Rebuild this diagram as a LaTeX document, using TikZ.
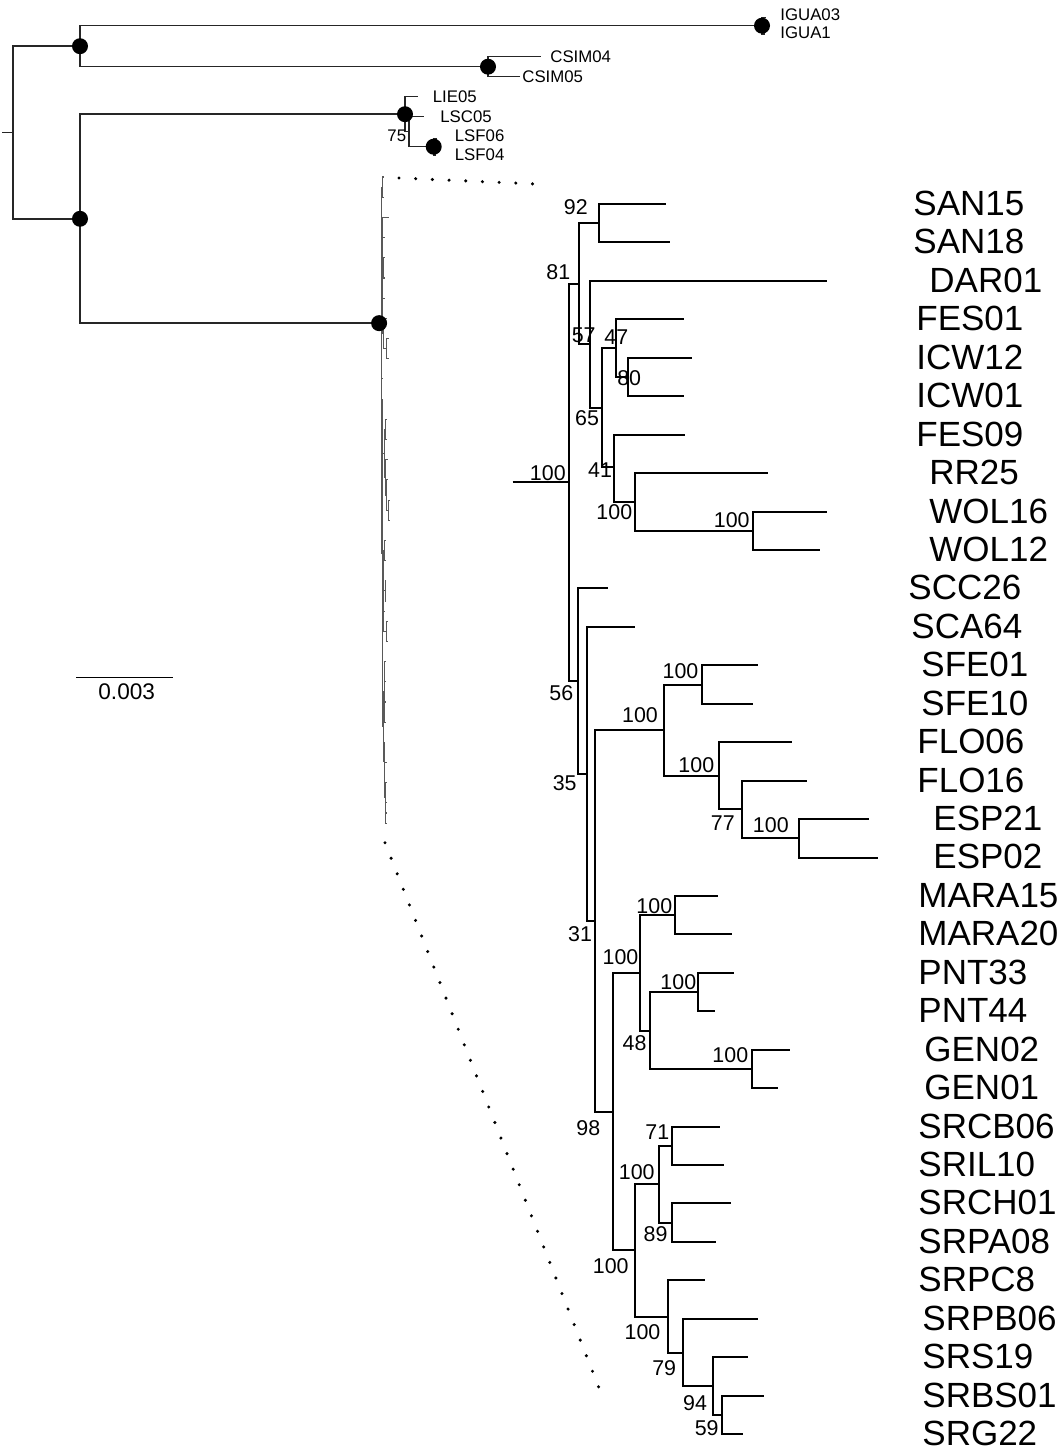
\documentclass[tikz,border=0pt]{standalone}
\usepackage{fontspec}
\setmainfont{Liberation Sans}
\tikzset{
  mainbranch/.style={line width=1pt, black},
  thinbranch/.style={line width=0.55pt, black!65},
  topbranch/.style={line width=0.7pt, black!85},
  supportdot/.style={circle, fill=black, inner sep=0pt, minimum size=8pt},
  tiplbl/.style={anchor=west, inner sep=0pt, text height=12.5pt, text depth=0pt, font=\fontsize{17.5}{20}\selectfont},
  bslbl/.style={inner sep=0pt, text height=7.66pt, text depth=0pt, font=\fontsize{10.7}{12}\selectfont},
  smlbl/.style={anchor=west, inner sep=0pt, text height=6pt, text depth=0pt, font=\fontsize{8.4}{10}\selectfont},
  scalelbl/.style={inner sep=0pt, text height=8.1pt, text depth=0pt, font=\fontsize{11.3}{13}\selectfont},
  dotline/.style={line width=1.7pt, line cap=round, dash pattern=on 0pt off 8.35pt, black},
}
% Branches of the ingroup clade; #1 = name prefix, #2 = line style
\newcommand\cladebranches[2]{%
  \coordinate (#1s) at (512.7,482.3);
  \coordinate (#1r) at (569.3,482.3);
  \coordinate (#1n81) at (579,283.6);
  \coordinate (#1n92) at (599.3,223.2);
  \coordinate (#1n57) at (590,344.0);
  \coordinate (#1n65) at (601.7,407.7);
  \coordinate (#1n47) at (616,348.2);
  \coordinate (#1n80) at (628.3,377.0);
  \coordinate (#1n41) at (614,467.3);
  \coordinate (#1nrr) at (635,501.9);
  \coordinate (#1nwol) at (752.7,530.7);
  \coordinate (#1n56) at (577.7,681.0);
  \coordinate (#1n35) at (586.7,773.6);
  \coordinate (#1n31) at (595,921.0);
  \coordinate (#1nsf) at (664.3,730.1);
  \coordinate (#1nsfe) at (701.7,684.5);
  \coordinate (#1nflo) at (718.7,775.7);
  \coordinate (#1n77) at (741.7,809.4);
  \coordinate (#1nesp) at (799,838.2);
  \coordinate (#1n98) at (613,1111.9);
  \coordinate (#1nmp) at (640,972.8);
  \coordinate (#1nmara) at (675,915.2);
  \coordinate (#1n48) at (650,1030.5);
  \coordinate (#1npnt) at (698.3,992.0);
  \coordinate (#1ngen) at (752.3,1068.9);
  \coordinate (#1nsr) at (635,1250.4);
  \coordinate (#1nsra) at (659.3,1184.2);
  \coordinate (#1n71) at (672.3,1145.8);
  \coordinate (#1n89) at (672.3,1222.6);
  \coordinate (#1nsrb) at (668.3,1316.5);
  \coordinate (#1n79) at (683.3,1352.6);
  \coordinate (#1n94) at (713.3,1386.0);
  \coordinate (#1n59) at (721.7,1414.8);
  \coordinate (#1t0) at (666,204.0);
  \coordinate (#1t1) at (670,242.4);
  \coordinate (#1t2) at (827,280.9);
  \coordinate (#1t3) at (684,319.3);
  \coordinate (#1t4) at (692,357.8);
  \coordinate (#1t5) at (683.7,396.2);
  \coordinate (#1t6) at (685,434.6);
  \coordinate (#1t7) at (767.7,473.1);
  \coordinate (#1t8) at (827,511.5);
  \coordinate (#1t9) at (820,550.0);
  \coordinate (#1t10) at (607.7,588.4);
  \coordinate (#1t11) at (635,626.8);
  \coordinate (#1t12) at (758.3,665.3);
  \coordinate (#1t13) at (752.7,703.7);
  \coordinate (#1t14) at (791.7,742.2);
  \coordinate (#1t15) at (806.7,780.6);
  \coordinate (#1t16) at (869.3,819.0);
  \coordinate (#1t17) at (878.3,857.5);
  \coordinate (#1t18) at (718.3,895.9);
  \coordinate (#1t19) at (732.3,934.4);
  \coordinate (#1t20) at (734,972.8);
  \coordinate (#1t21) at (715,1011.2);
  \coordinate (#1t22) at (790,1049.7);
  \coordinate (#1t23) at (778.3,1088.1);
  \coordinate (#1t24) at (720,1126.6);
  \coordinate (#1t25) at (724,1165.0);
  \coordinate (#1t26) at (731,1203.4);
  \coordinate (#1t27) at (715.7,1241.9);
  \coordinate (#1t28) at (705,1280.3);
  \coordinate (#1t29) at (757.7,1318.8);
  \coordinate (#1t30) at (748.3,1357.2);
  \coordinate (#1t31) at (764,1395.6);
  \coordinate (#1t32) at (743.3,1434.1);
  \draw[#2] (#1s) -- (#1r);
  \foreach \p/\c in {r/n81, r/n56, n81/n92, n81/n57, n92/t0, n92/t1,
      n57/t2, n57/n65, n65/n47, n65/n41, n47/t3, n47/n80, n80/t4, n80/t5,
      n41/t6, n41/nrr, nrr/t7, nrr/nwol, nwol/t8, nwol/t9,
      n56/t10, n56/n35, n35/t11, n35/n31, n31/nsf, n31/n98,
      nsf/nsfe, nsf/nflo, nsfe/t12, nsfe/t13, nflo/t14, nflo/n77,
      n77/t15, n77/nesp, nesp/t16, nesp/t17,
      n98/nmp, n98/nsr, nmp/nmara, nmp/n48, nmara/t18, nmara/t19,
      n48/npnt, n48/ngen, npnt/t20, npnt/t21, ngen/t22, ngen/t23,
      nsr/nsra, nsr/nsrb, nsra/n71, nsra/n89, n71/t24, n71/t25,
      n89/t26, n89/t27, nsrb/t28, nsrb/n79, n79/t29, n79/n94,
      n94/t30, n94/n59, n59/t31, n59/t32}
    \draw[#2] (#1\p) |- (#1\c);
}
\begin{document}
\begin{tikzpicture}[x=0.5pt, y=-0.5pt]
\useasboundingbox (0,0) rectangle (1063,1450);

% ---- enlarged ingroup clade ----
\cladebranches{m}{mainbranch}

% ---- same clade at tree scale ----
\begin{scope}[shift={(381.5,177)}, xscale=0.029, yscale=0.5252, shift={(-569.3,-204)}]
  \cladebranches{c}{thinbranch}
\end{scope}

% ---- outgroups and backbone ----
\coordinate (ts) at (2,132.5);
\coordinate (tR) at (12.8,132.5);
\coordinate (tA) at (80,46.2);
\coordinate (tIg) at (762,25.7);
\coordinate (tI1) at (766,17.5);
\coordinate (tI2) at (765,34);
\coordinate (tCs) at (488,66.7);
\coordinate (tC1) at (541,56.7);
\coordinate (tC2) at (520,76.7);
\coordinate (tB) at (80,218.8);
\coordinate (tL) at (405,114.2);
\coordinate (tLIE) at (418,96.7);
\coordinate (tL75) at (409,131.7);
\coordinate (tLSC) at (424,116.7);
\coordinate (tLSF) at (433.7,146.7);
\coordinate (tLS6) at (437,139);
\coordinate (tLS4) at (436,155);
\draw[topbranch] (ts) -- (tR);
\foreach \p/\c in {tR/tA, tR/tB, tA/tIg, tA/tCs, tIg/tI1, tIg/tI2,
    tCs/tC1, tCs/tC2, tB/tL, tB/cr, tL/tLIE, tL/tL75, tL75/tLSC, tL75/tLSF,
    tLSF/tLS6, tLSF/tLS4}
  \draw[topbranch] (\p) |- (\c);

\node[supportdot] (dA) at (tA) {};
\node[supportdot] (dIg) at (tIg) {};
\node[supportdot] (dCs) at (tCs) {};
\node[supportdot] (dB) at (tB) {};
\node[supportdot] (dL) at (tL) {};
\node[supportdot] (dLSF) at (tLSF) {};
\node[supportdot] (dC) at ([xshift=-1.2pt]cr) {};

\node[smlbl] (lIG3) at (780,15) {IGUA03};
\node[smlbl] (lIG1) at (780,33) {IGUA1};
\node[smlbl] (lCS4) at (550,57) {CSIM04};
\node[smlbl] (lCS5) at (522,77) {CSIM05};
\node[smlbl] (lLIE) at (432.5,97) {LIE05};
\node[smlbl] (lLSC) at (440,116.5) {LSC05};
\node[smlbl] (lLS6) at (454.5,135.5) {LSF06};
\node[smlbl] (lLS4) at (454.5,154.5) {LSF04};
\node[smlbl, anchor=center] (b75) at (396.8,135) {75};

% ---- dotted zoom guides ----
\coordinate (zt1) at (399,178);
\coordinate (zt2) at (548,184.5);
\coordinate (zb1) at (385,842.7);
\coordinate (zb2) at (602.7,1397.3);
\draw[dotline] (zt1) -- (zt2);
\draw[dotline] (zb1) -- (zb2);

% ---- scale bar ----
\coordinate (sb1) at (76,677.7);
\coordinate (sb2) at (172.7,677.7);
\draw[line width=0.6pt] (sb1) -- (sb2);
\node[scalelbl] (sbl) at (126.7,691.7) {0.003};

% ---- bootstrap values ----
\foreach \n/\x/\y/\v in {
    n92/575.8/207/92, n81/558.3/271.8/81, n57/583.7/334.5/57, n47/616.3/337/47,
    n80/629.2/377.8/80, n65/587/417.8/65, n41/600/470.2/41, nrr/614.3/512/100,
    nwol/731.7/520.3/100, r/547.8/473.3/100, n56/561.3/693.3/56, n35/564.7/782.8/35,
    nsf/640/715.3/100, nsfe/680.5/670.8/100, nflo/696.3/764.7/100, n77/722.8/822.8/77,
    nesp/770.8/824.5/100, n31/580/933.7/31, nmara/654.3/905.5/100, nmp/620.5/957.2/100,
    npnt/678.3/982/100, n48/634.5/1043.3/48, ngen/730.3/1055.3/100, n98/588.3/1127.5/98,
    n71/657.3/1131.7/71, nsra/636.7/1172/100, n89/655.5/1234.2/89, nsr/610.7/1266.2/100,
    nsrb/642.5/1332/100, n79/664.2/1368.3/79, n94/695/1403.3/94, n59/706.7/1428/59}
  \node[bslbl] (bs-\n) at (\x,\y) {\v};

% ---- tip labels ----
\foreach \i/\x/\t in {
    0/913/SAN15, 1/913/SAN18, 2/929/DAR01, 3/916/FES01, 4/916/ICW12, 5/916/ICW01,
    6/916/FES09, 7/929/RR25, 8/929/WOL16, 9/929/WOL12, 10/908/SCC26, 11/911/SCA64,
    12/921/SFE01, 13/921/SFE10, 14/917/FLO06, 15/917/FLO16, 16/933/ESP21, 17/933/ESP02,
    18/918/MARA15, 19/918/MARA20, 20/918/PNT33, 21/918/PNT44, 22/924/GEN02, 23/924/GEN01,
    24/918/SRCB06, 25/918/SRIL10, 26/918/SRCH01, 27/918/SRPA08, 28/918/SRPC8,
    29/922/SRPB06, 30/922/SRS19, 31/922/SRBS01, 32/922/SRG22}
  \node[tiplbl] (lab-\t) at (\x,{203+38.44*\i}) {\t};
\end{tikzpicture}
\end{document}
